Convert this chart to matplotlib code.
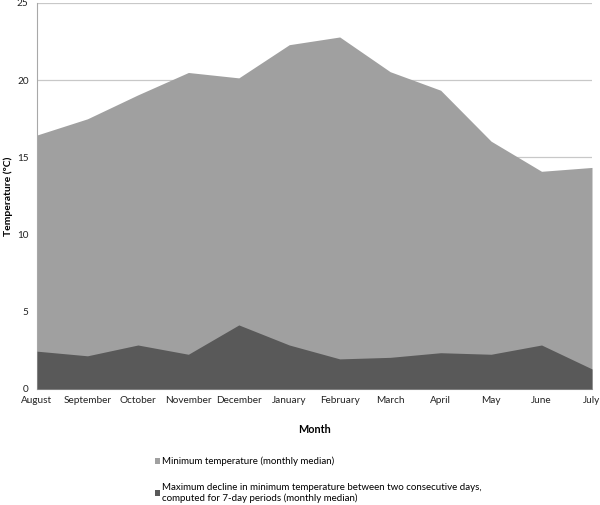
import matplotlib
matplotlib.use("Agg")
import matplotlib.pyplot as plt
from matplotlib.patches import Patch

months = ["August", "September", "October", "November", "December", "January",
          "February", "March", "April", "May", "June", "July"]
min_temp = [16.45, 17.5, 19.05, 20.5, 20.15, 22.3, 22.8, 20.55, 19.35, 16.05, 14.1, 14.35]
max_decline = [2.45, 2.15, 2.85, 2.25, 4.15, 2.85, 1.95, 2.05, 2.35, 2.25, 2.85, 1.3]

light = "#a0a0a0"
dark = "#595959"

plt.rcParams["font.family"] = ["Lato", "DejaVu Sans"]

fig = plt.figure(figsize=(6.0, 5.05), dpi=100)
ax = fig.add_axes([37 / 600, 116 / 505, 555 / 600, 386 / 505])

x = list(range(len(months)))
ax.fill_between(x, 0, min_temp, color=light, linewidth=0, zorder=2)
ax.fill_between(x, 0, max_decline, color=dark, linewidth=0, zorder=3)

ax.set_xlim(0, len(months) - 1)
ax.set_ylim(0, 25)
ax.set_yticks([0, 5, 10, 15, 20, 25])
ax.set_xticks(x)
ax.set_xticklabels(months)
ax.grid(axis="y", color="#c8c8c8", linewidth=0.9, zorder=1)
ax.set_axisbelow(True)
for s in ["top", "right"]:
    ax.spines[s].set_visible(False)
ax.spines["left"].set_color("#a8a8a8")
ax.spines["bottom"].set_color("#a8a8a8")
ax.tick_params(length=0, labelsize=7.2, colors="#222222", pad=5)
ax.tick_params(axis="y", pad=6)

ax.set_xlabel("Month", fontsize=7.8, fontweight="bold", labelpad=14)
# y label placed by hand so it stays inside the figure
fig.text(8 / 600, 1 - 196 / 505, "Temperature (ºC)", rotation=90, fontsize=7.5,
         fontweight="bold", ha="center", va="center")

handles = [Patch(facecolor=light, edgecolor="none"),
           Patch(facecolor=dark, edgecolor="none")]
labels = ["Minimum temperature (monthly median)",
          "Maximum decline in minimum temperature between two consecutive days,\n"
          "computed for 7-day periods (monthly median)"]
fig.legend(handles, labels, loc="upper left", bbox_to_anchor=(146 / 600, 1 - 448 / 505),
           frameon=False, fontsize=7, handlelength=0.55, handleheight=0.55,
           handletextpad=0.2, labelspacing=1.75)

fig.savefig("out.png", dpi=100)
